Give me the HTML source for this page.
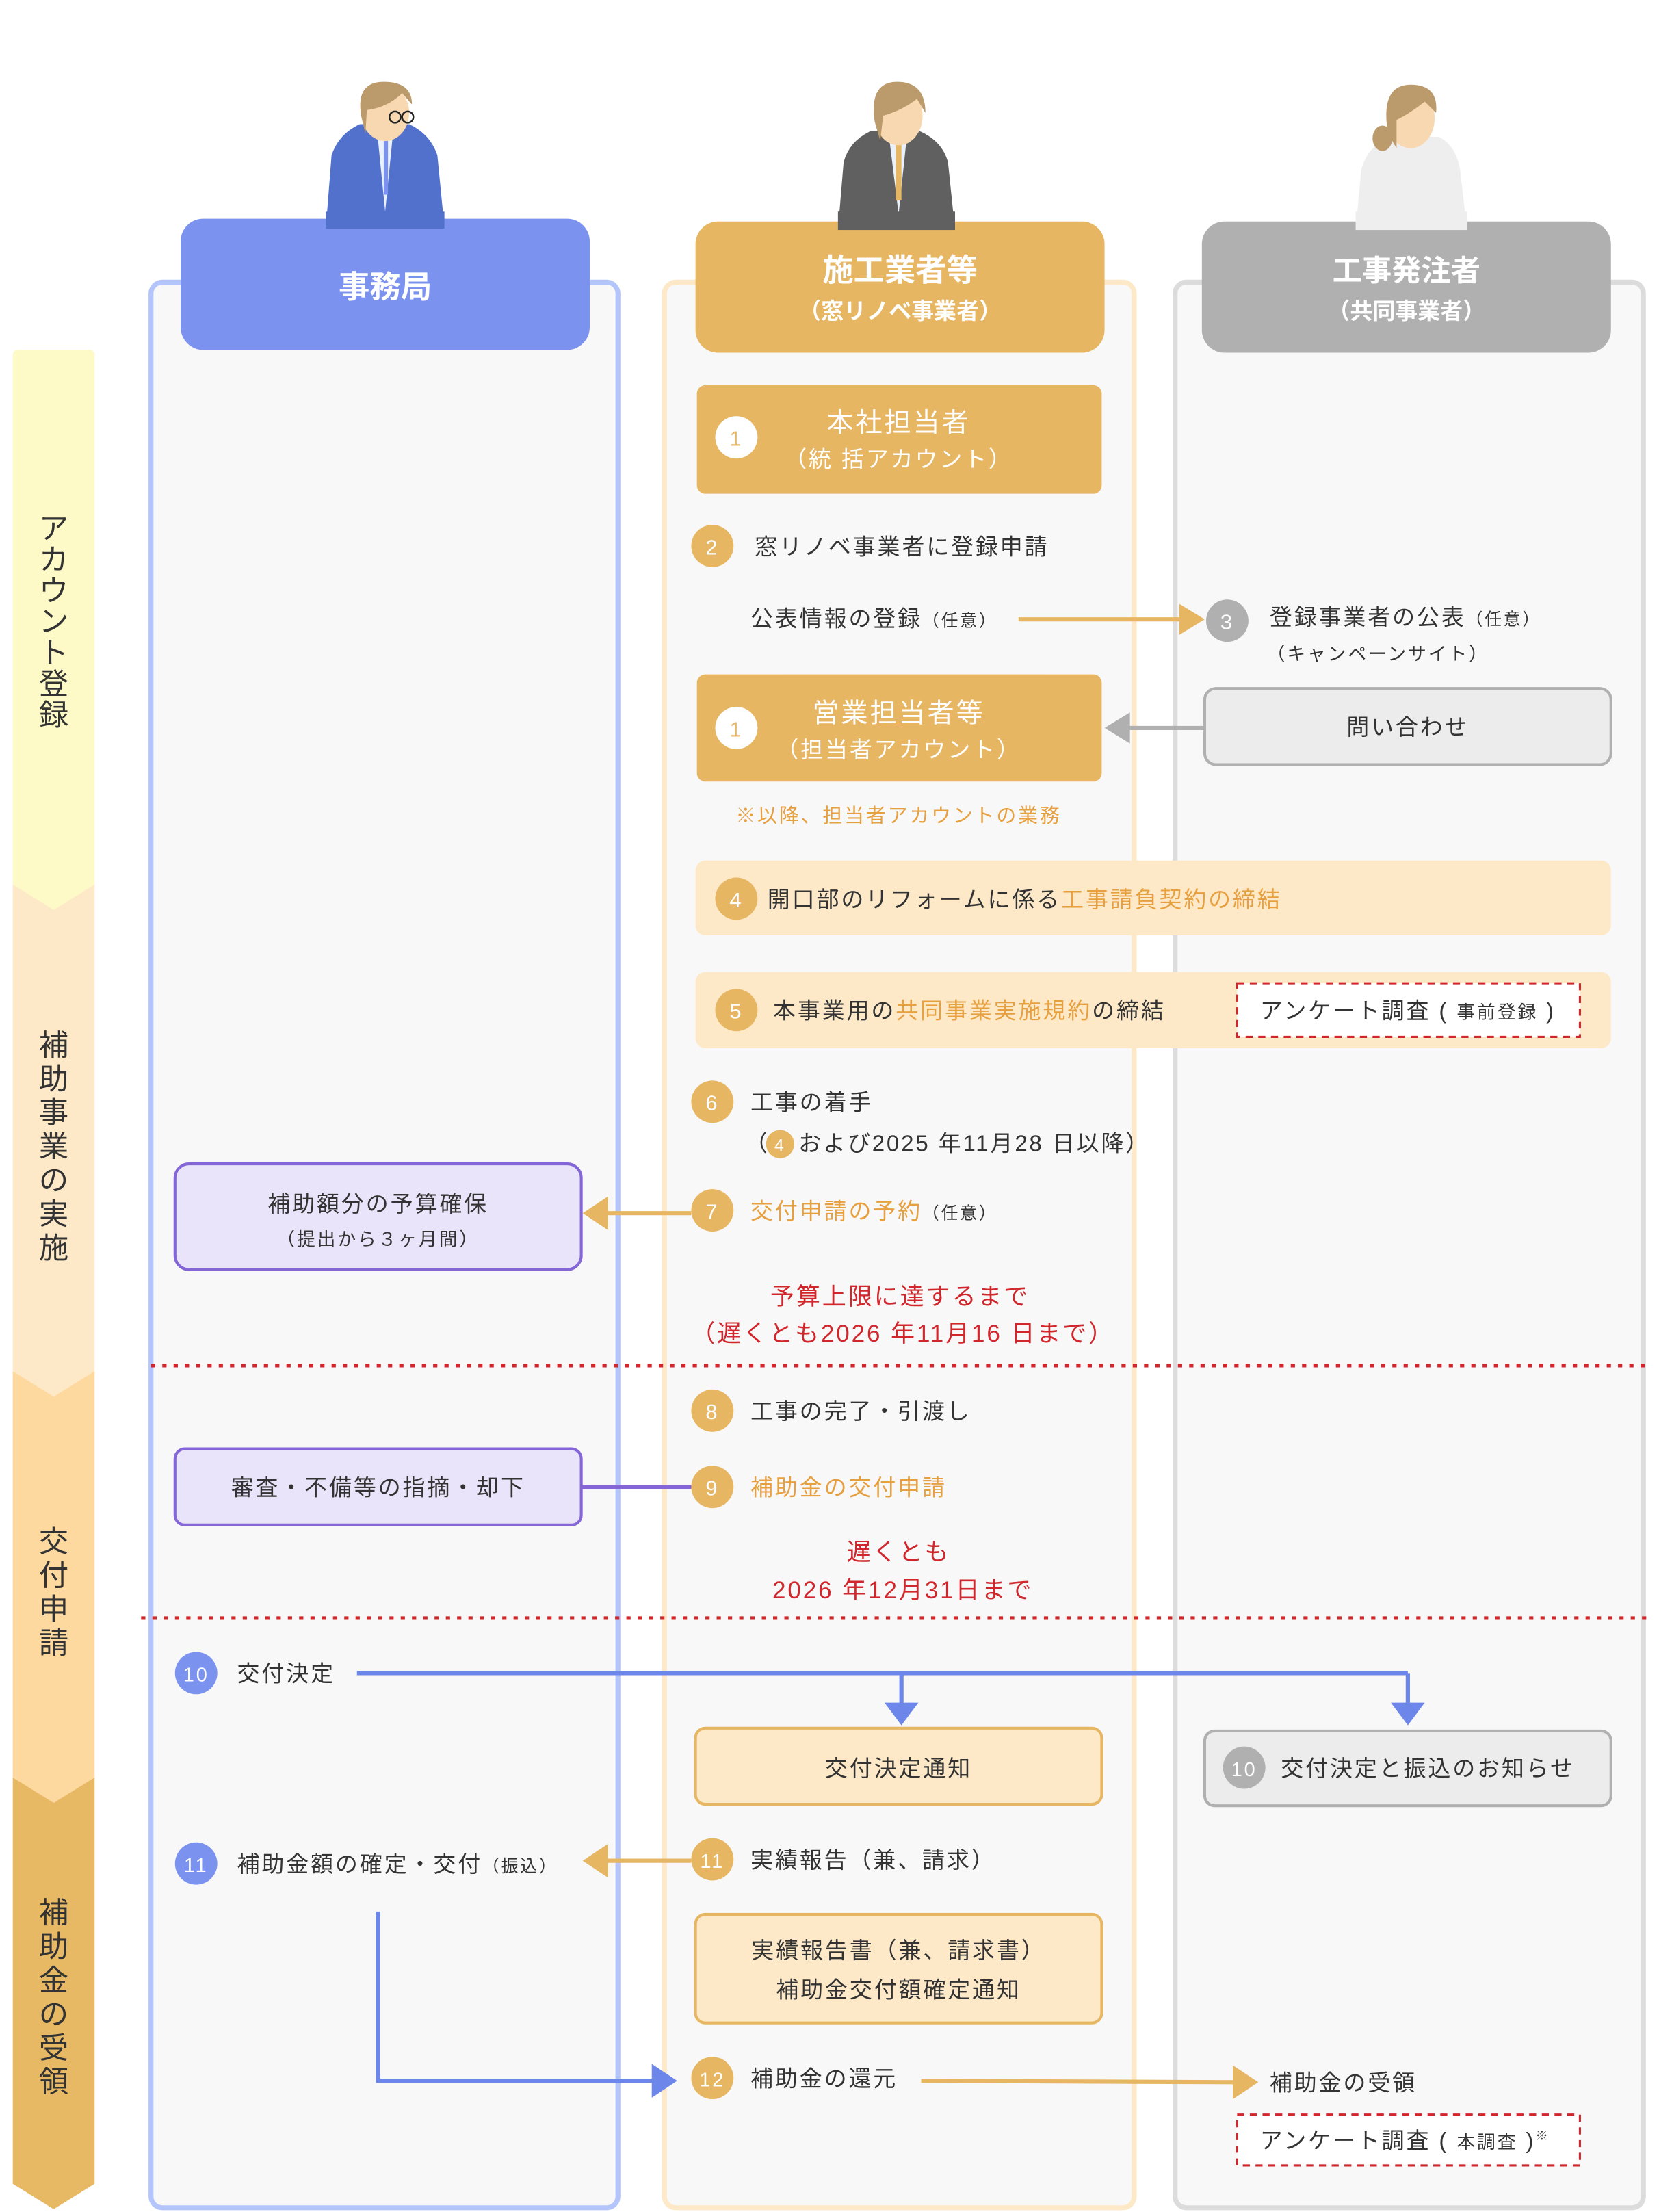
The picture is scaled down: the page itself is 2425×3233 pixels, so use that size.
<!DOCTYPE html>
<html><head><meta charset="utf-8">
<style>
html,body{margin:0;padding:0;background:#fff;}
svg{display:block;}
text{font-family:"Liberation Sans","Noto Sans CJK JP",sans-serif;}
.b text{letter-spacing:1.4px;}
</style></head>
<body>
<svg width="2425" height="3233" viewBox="0 0 1176 1568" xmlns="http://www.w3.org/2000/svg">
<!-- phase bars -->
<polygon points="9,1260 67,1260 67,1548 38,1566 9,1548" fill="#e8b965"/>
<polygon points="9,972 67,972 67,1260 38,1278 9,1260" fill="#fdd9a0"/>
<polygon points="9,627 67,627 67,972 38,990 9,972" fill="#fde9c8"/>
<path d="M13,248 H63 Q67,248 67,252 V627 L38,645 L9,627 V252 Q9,248 13,248Z" fill="#fdfac8"/>
<g font-size="21" fill="#333" text-anchor="middle">
<text x="38" y="382">ア</text><text x="38" y="404">カ</text><text x="38" y="426">ウ</text><text x="38" y="448">ン</text><text x="38" y="470">ト</text><text x="38" y="492">登</text><text x="38" y="514">録</text>
<text x="38" y="748">補</text><text x="38" y="772">助</text><text x="38" y="796">事</text><text x="38" y="820">業</text><text x="38" y="844">の</text><text x="38" y="868">実</text><text x="38" y="892">施</text>
<text x="38" y="1100">交</text><text x="38" y="1124">付</text><text x="38" y="1148">申</text><text x="38" y="1172">請</text>
<text x="38" y="1363">補</text><text x="38" y="1387">助</text><text x="38" y="1411">金</text><text x="38" y="1435">の</text><text x="38" y="1459">受</text><text x="38" y="1483">領</text>
</g>
<!-- columns -->
<rect x="107" y="200" width="331" height="1365" rx="8" fill="#f8f8f8" stroke="#b3c5fb" stroke-width="3.5"/>
<rect x="471" y="200" width="333" height="1365" rx="8" fill="#f8f8f8" stroke="#fde9c8" stroke-width="3.5"/>
<rect x="833" y="200" width="332" height="1365" rx="8" fill="#f8f8f8" stroke="#dcdcdc" stroke-width="3.5"/>
<!-- figures -->
<g>
<path d="M231,161 L235,110 Q240,95 255,88 L290,88 Q305,95 310,110 L315,161Z" fill="#5171cc"/>
<path d="M267,90 L273,150 L279,90Z" fill="#eaf1fb"/><rect x="272" y="93" width="3" height="45" fill="#7b93ef"/>
<rect x="265" y="70" width="16" height="22" fill="#f8d8b0"/>
<ellipse cx="273" cy="80" rx="17" ry="20" fill="#f8d8b0"/>
<path d="M256,82 Q252,58 272,58 Q292,58 292,74 L285,66 Q275,76 260,78 L259,95Z" fill="#bb9a6b"/>
<circle cx="280" cy="83" r="4" fill="none" stroke="#222" stroke-width="1.2"/><circle cx="289" cy="83" r="4" fill="none" stroke="#222" stroke-width="1.2"/>
</g>
<g>
<path d="M594,163 L598,115 Q602,100 617,93 L652,93 Q668,100 672,115 L677,163Z" fill="#606060"/>
<path d="M630,95 L637,152 L643,95Z" fill="#eaf1fb"/><rect x="635" y="97" width="4" height="45" fill="#e7b663"/>
<rect x="629" y="74" width="16" height="22" fill="#f8d8b0"/>
<ellipse cx="637" cy="82" rx="17" ry="21" fill="#f8d8b0"/>
<path d="M620,86 Q616,58 636,58 Q656,58 656,80 L650,70 Q640,78 626,82 L624,100Z" fill="#bb9a6b"/>
</g>
<g>
<path d="M961,163 L965,120 Q970,103 985,97 L1020,97 Q1032,103 1035,120 L1040,163Z" fill="#eeeeee"/>
<rect x="991" y="80" width="16" height="22" fill="#f8d8b0"/>
<ellipse cx="1000" cy="84" rx="17" ry="21" fill="#f8d8b0"/>
<path d="M984,95 Q978,60 1000,60 Q1020,60 1018,80 L1010,72 Q1000,80 990,85 L990,105Z" fill="#bb9a6b"/>
<ellipse cx="980" cy="98" rx="7" ry="9" fill="#bb9a6b"/>
</g>
<!-- headers -->
<rect x="128" y="155" width="290" height="93" rx="16" fill="#7b93ef"/>
<rect x="231" y="150" width="84" height="12" fill="#5171cc"/>
<text x="273" y="211" font-size="22" font-weight="bold" fill="#fff" text-anchor="middle">事務局</text>
<rect x="493" y="157" width="290" height="93" rx="16" fill="#e7b663"/>
<rect x="594" y="150" width="83" height="13" fill="#606060"/>
<text x="638" y="199" font-size="22" font-weight="bold" fill="#fff" text-anchor="middle">施工業者等</text>
<text x="638" y="226" font-size="16" font-weight="bold" fill="#fff" text-anchor="middle">（窓リノベ事業者）</text>
<rect x="852" y="157" width="290" height="93" rx="16" fill="#b0b0b0"/>
<rect x="961" y="150" width="79" height="13" fill="#eeeeee"/>
<text x="997" y="199" font-size="21" font-weight="bold" fill="#fff" text-anchor="middle">工事発注者</text>
<text x="997" y="226" font-size="16" font-weight="bold" fill="#fff" text-anchor="middle">（共同事業者）</text>

<g font-size="16" fill="#333" class="b">
<rect x="494" y="273" width="287" height="77" rx="6" fill="#e7b663"/>
<circle cx="522" cy="310" r="15" fill="#fff"/><text x="522" y="316" text-anchor="middle" fill="#e7b663" font-size="15">1</text>
<text x="637" y="306" text-anchor="middle" fill="#fff" font-size="19">本社担当者</text>
<text x="637" y="331" text-anchor="middle" fill="#fff" font-size="16">（統 括アカウント）</text>
<circle cx="505" cy="387" r="15" fill="#e7b663"/><text x="505" y="393" text-anchor="middle" fill="#fff" font-size="15">2</text>
<text x="535" y="393">窓リノベ事業者に登録申請</text>
<text x="532" y="444">公表情報の登録<tspan font-size="12">（任意）</tspan></text>
<line x1="722" y1="439" x2="838" y2="439" stroke="#e7b663" stroke-width="3"/>
<polygon points="836,428 854,439 836,450" fill="#e7b663"/>
<circle cx="870" cy="440" r="15" fill="#b0b0b0"/><text x="870" y="446" text-anchor="middle" fill="#fff" font-size="15">3</text>
<text x="900" y="443">登録事業者の公表<tspan font-size="12">（任意）</tspan></text>
<text x="898" y="468" font-size="13">（キャンペーンサイト）</text>
<rect x="494" y="478" width="287" height="76" rx="6" fill="#e7b663"/>
<circle cx="522" cy="516" r="15" fill="#fff"/><text x="522" y="522" text-anchor="middle" fill="#e7b663" font-size="15">1</text>
<text x="637" y="512" text-anchor="middle" fill="#fff" font-size="19">営業担当者等</text>
<text x="637" y="537" text-anchor="middle" fill="#fff" font-size="16">（担当者アカウント）</text>
<rect x="854" y="488" width="288" height="54" rx="8" fill="#ececec" stroke="#b0b0b0" stroke-width="2"/>
<text x="998" y="521" text-anchor="middle">問い合わせ</text>
<line x1="854" y1="516" x2="798" y2="516" stroke="#b0b0b0" stroke-width="3"/>
<polygon points="801,505 783,516 801,527" fill="#b0b0b0"/>
<text x="637" y="583" text-anchor="middle" fill="#e7a040" font-size="14">※以降、担当者アカウントの業務</text>
<rect x="493" y="610" width="649" height="53" rx="7" fill="#fde9c8"/>
<circle cx="522" cy="637" r="15" fill="#e7b663"/><text x="522" y="643" text-anchor="middle" fill="#fff" font-size="15">4</text>
<text x="544" y="643">開口部のリフォームに係る<tspan fill="#e7a040">工事請負契約の締結</tspan></text>
<rect x="493" y="689" width="649" height="54" rx="7" fill="#fde9c8"/>
<circle cx="522" cy="716" r="15" fill="#e7b663"/><text x="522" y="722" text-anchor="middle" fill="#fff" font-size="15">5</text>
<text x="548" y="722">本事業用の<tspan fill="#e7a040">共同事業実施規約</tspan>の締結</text>
<rect x="877" y="697" width="243" height="38" fill="#fff" stroke="#d0262c" stroke-width="1.5" stroke-dasharray="5,4"/>
<text x="998" y="722" text-anchor="middle">アンケート調査 ( <tspan font-size="13">事前登録</tspan> )</text>
<circle cx="505" cy="781" r="15" fill="#e7b663"/><text x="505" y="787" text-anchor="middle" fill="#fff" font-size="15">6</text>
<text x="532" y="787">工事の着手</text>
<text x="528" y="816">（</text>
<circle cx="553" cy="811" r="10" fill="#e7b663"/><text x="553" y="816" text-anchor="middle" fill="#fff" font-size="12">4</text>
<text x="566" y="816">および2025 年11月28 日以降）</text>
<rect x="124" y="825" width="288" height="75" rx="10" fill="#e9e4f9" stroke="#8466d6" stroke-width="2"/>
<text x="268" y="859" text-anchor="middle">補助額分の予算確保</text>
<text x="268" y="883" text-anchor="middle" font-size="13">（提出から３ヶ月間）</text>
<line x1="490" y1="860" x2="428" y2="860" stroke="#e7b663" stroke-width="3"/>
<polygon points="431,848 413,860 431,872" fill="#e7b663"/>
<circle cx="505" cy="858" r="15" fill="#e7b663"/><text x="505" y="864" text-anchor="middle" fill="#fff" font-size="15">7</text>
<text x="532" y="864" fill="#e7a040">交付申請の予約<tspan fill="#333" font-size="12">（任意）</tspan></text>
<text x="638" y="925" text-anchor="middle" fill="#d0262c" font-size="17">予算上限に達するまで</text>
<text x="640" y="951" text-anchor="middle" fill="#d0262c" font-size="17">（遅くとも2026 年11月16 日まで）</text>
<line x1="107" y1="968" x2="1168" y2="968" stroke="#d0262c" stroke-width="2.5" stroke-dasharray="3,5"/>
<circle cx="505" cy="1000" r="15" fill="#e7b663"/><text x="505" y="1006" text-anchor="middle" fill="#fff" font-size="15">8</text>
<text x="532" y="1006">工事の完了・引渡し</text>
<rect x="124" y="1027" width="288" height="54" rx="7" fill="#e9e4f9" stroke="#8466d6" stroke-width="2"/>
<text x="268" y="1060" text-anchor="middle">審査・不備等の指摘・却下</text>
<line x1="412" y1="1054" x2="490" y2="1054" stroke="#8466d6" stroke-width="3"/>
<circle cx="505" cy="1054" r="15" fill="#e7b663"/><text x="505" y="1060" text-anchor="middle" fill="#fff" font-size="15">9</text>
<text x="532" y="1060" fill="#e7a040">補助金の交付申請</text>
<text x="637" y="1106" text-anchor="middle" fill="#d0262c" font-size="17">遅くとも</text>
<text x="640" y="1133" text-anchor="middle" fill="#d0262c" font-size="17">2026 年12月31日まで</text>
<line x1="100" y1="1147" x2="1168" y2="1147" stroke="#d0262c" stroke-width="2.5" stroke-dasharray="3,5"/>
<circle cx="139" cy="1186" r="15" fill="#7b93ef"/><text x="139" y="1192" text-anchor="middle" fill="#fff" font-size="14">10</text>
<text x="168" y="1192">交付決定</text>
<polyline points="253,1186 998,1186" fill="none" stroke="#6c86ea" stroke-width="3"/>
<line x1="639" y1="1186" x2="639" y2="1210" stroke="#6c86ea" stroke-width="3"/>
<polygon points="627,1207 651,1207 639,1223" fill="#6c86ea"/>
<line x1="998" y1="1186" x2="998" y2="1210" stroke="#6c86ea" stroke-width="3"/>
<polygon points="986,1207 1010,1207 998,1223" fill="#6c86ea"/>
<rect x="493" y="1225" width="288" height="54" rx="7" fill="#fde9c8" stroke="#e7b663" stroke-width="2"/>
<text x="637" y="1259" text-anchor="middle">交付決定通知</text>
<rect x="854" y="1227" width="288" height="53" rx="7" fill="#ececec" stroke="#b0b0b0" stroke-width="2"/>
<circle cx="882" cy="1253" r="15" fill="#b0b0b0"/><text x="882" y="1259" text-anchor="middle" fill="#fff" font-size="14">10</text>
<text x="908" y="1259">交付決定と振込のお知らせ</text>
<circle cx="139" cy="1321" r="15" fill="#7b93ef"/><text x="139" y="1327" text-anchor="middle" fill="#fff" font-size="14">11</text>
<text x="168" y="1327">補助金額の確定・交付<tspan font-size="12">（振込）</tspan></text>
<line x1="490" y1="1319" x2="428" y2="1319" stroke="#e7b663" stroke-width="3"/>
<polygon points="431,1307 413,1319 431,1331" fill="#e7b663"/>
<circle cx="505" cy="1318" r="15" fill="#e7b663"/><text x="505" y="1324" text-anchor="middle" fill="#fff" font-size="14">11</text>
<text x="532" y="1324">実績報告（兼、請求）</text>
<rect x="493" y="1357" width="288" height="77" rx="7" fill="#fde9c8" stroke="#e7b663" stroke-width="2"/>
<text x="637" y="1388" text-anchor="middle">実績報告書（兼、請求書）</text>
<text x="637" y="1416" text-anchor="middle">補助金交付額確定通知</text>
<polyline points="268,1355 268,1475 465,1475" fill="none" stroke="#6c86ea" stroke-width="3"/>
<polygon points="462,1463 480,1475 462,1487" fill="#6c86ea"/>
<circle cx="505" cy="1473" r="15" fill="#e7b663"/><text x="505" y="1479" text-anchor="middle" fill="#fff" font-size="14">12</text>
<text x="532" y="1479">補助金の還元</text>
<line x1="653" y1="1475" x2="876" y2="1476" stroke="#e7b663" stroke-width="3"/>
<polygon points="874,1464 892,1476 874,1488" fill="#e7b663"/>
<text x="900" y="1482">補助金の受領</text>
<rect x="877" y="1499" width="243" height="36" fill="#fff" stroke="#d0262c" stroke-width="1.5" stroke-dasharray="5,4"/>
<text x="996" y="1523" text-anchor="middle">アンケート調査 ( <tspan font-size="13">本調査</tspan> )<tspan font-size="9" dy="-6">※</tspan></text>
</g>
</svg>
</body></html>
